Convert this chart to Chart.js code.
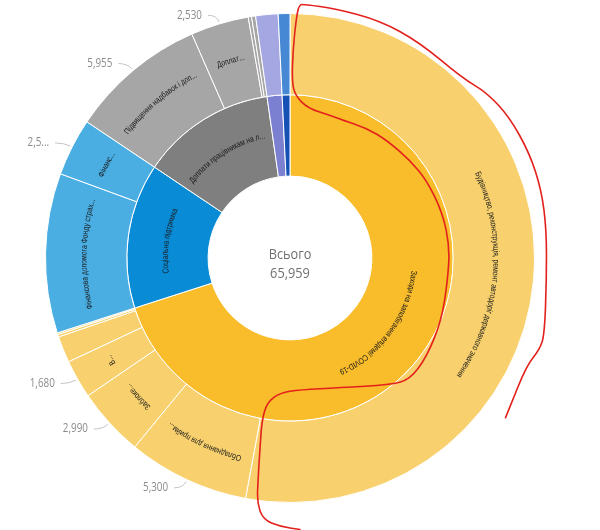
<!DOCTYPE html>
<html lang="uk">
<head>
  <meta charset="UTF-8" />
  <title>Всього</title>
  <script src="https://cdn.jsdelivr.net/npm/chart.js"></script>
  <style>
    html, body {
      margin: 0;
      padding: 0;
      background: #fff;
    }
    canvas {
      display: block;
    }
  </style>
</head>
<body>
  <canvas id="sunburst" width="600" height="530"></canvas>

  <script>
    // outer ring, clockwise from 12 o'clock
    const outerNames = [
      "Будівництво, реконструкція, ремонт автодоріг державного значення",
      "Обладнання для прийм...",
      "Заблоке...",
      "В...",
      "", "", "",
      "Фінансова допомога Фонду страх...",
      "Фінанс...",
      "Підвищення надбавок і доп...",
      "Доплат...",
      "", "",
      "",
      ""
    ];
    const outerValues = [34900, 5300, 2990, 1680, 1150, 110, 70, 6960, 2510, 5955, 2530, 145, 175, 975, 509];
    const outerGroup  = [0, 0, 0, 0, 0, 0, 0, 1, 1, 2, 2, 2, 2, 3, 4];
    // 1 = value shown, 2 = value shown cut short, 0 = none
    const valueTags   = [0, 1, 1, 1, 0, 0, 0, 0, 2, 1, 1, 0, 0, 0, 0];

    // inner ring
    const innerNames = [
      "Заходи на запобігання епідемії COVID-19",
      "Соціальна підтримка",
      "Доплати працівникам на л...",
      "",
      ""
    ];
    const innerColors = ["#F9BC2A", "#0A8BD6", "#7F7F7F", "#7B80D1", "#1652B5"];
    const outerColors = ["#F8D16E", "#4AAEE3", "#A6A6A6", "#A4A7E1", "#4688D3"];

    const centerTitle = "Всього";

    // hand drawn red loop on the screenshot, offsets from the centre (outer radius = 245)
    const scribble = [
      [216,160],[220,150],[237,108],[250,92],[255,77],[257,22],[257,-28],[252,-68],[240,-105],
      [220,-141],[197,-166],[173,-180],[130,-216],[90,-238],[45,-250],[15,-254],[9,-254],
      [6,-238],[3,-208],[2,-178],[5,-163],[18,-150],[40,-143],[53,-138],[77,-130],[97,-118],
      [120,-98],[137,-78],[153,-45],[160,-11],[158,22],[152,62],[137,99],[120,122],[100,127],
      [50,130],[10,132],[-10,135],[-23,145],[-28,162],[-30,189],[-32,222],[-33,245],
      [-27,262],[-10,269],[10,272]
    ];

    const innerValues = innerNames.map((_, g) =>
      outerValues.reduce((s, v, i) => (outerGroup[i] === g ? s + v : s), 0)
    );
    const total = innerValues.reduce((a, b) => a + b, 0);

    function fmt(n) {
      return n.toLocaleString("en-US");
    }

    function curvedText(ctx, text, cx, cy, r, mid, squeeze) {
      const chars = [...text];
      const widths = chars.map(c => ctx.measureText(c).width * squeeze);
      const len = widths.reduce((a, b) => a + b, 0);
      let a = mid - len / 2 / r;
      chars.forEach((c, k) => {
        const ang = a + widths[k] / 2 / r;
        ctx.save();
        ctx.translate(cx + r * Math.cos(ang), cy + r * Math.sin(ang));
        ctx.rotate(ang + Math.PI / 2);
        ctx.scale(squeeze, 1);
        ctx.fillText(c, 0, 0);
        ctx.restore();
        a += widths[k] / r;
      });
    }

    function squeezed(ctx, txt, x, y, sx) {
      ctx.save();
      ctx.translate(x, y);
      ctx.scale(sx, 1);
      ctx.fillText(txt, 0, 0);
      ctx.restore();
    }

    const sunburstLabels = {
      id: "sunburstLabels",
      afterDraw(chart) {
        const ctx = chart.ctx;
        const outerMeta = chart.getDatasetMeta(0);
        const innerMeta = chart.getDatasetMeta(1);

        ctx.save();
        ctx.fillStyle = "#1a1a1a";
        ctx.font = "8.5px 'Liberation Sans', Arial, sans-serif";
        ctx.textAlign = "center";
        ctx.textBaseline = "middle";

        [[outerMeta, outerNames], [innerMeta, innerNames]].forEach(([meta, names]) => {
          meta.data.forEach((arc, i) => {
            if (!names[i]) return;
            const mid = (arc.startAngle + arc.endAngle) / 2;
            const r = (arc.innerRadius + arc.outerRadius) / 2 + 2;
            curvedText(ctx, names[i], arc.x, arc.y, r, mid, 0.8);
          });
        });

        // value labels outside the outer ring
        ctx.font = "12px 'Open Sans', 'Noto Sans', sans-serif";
        ctx.textAlign = "right";
        ctx.strokeStyle = "#c4c4c4";
        ctx.lineWidth = 1;
        outerMeta.data.forEach((arc, i) => {
          if (!valueTags[i]) return;
          const mid = (arc.startAngle + arc.endAngle) / 2;
          const R = arc.outerRadius;
          const px = arc.x + (R + 2) * Math.cos(mid), py = arc.y + (R + 2) * Math.sin(mid);
          const qx = arc.x + (R + 9) * Math.cos(mid), qy = arc.y + (R + 9) * Math.sin(mid);
          const ex = qx - 9, ey = qy;
          ctx.beginPath();
          ctx.moveTo(px, py);
          ctx.quadraticCurveTo(qx, qy, ex, ey);
          ctx.stroke();
          let txt = fmt(outerValues[i]);
          if (valueTags[i] === 2) txt = txt.slice(0, 3) + "...";
          ctx.fillStyle = "#8c8c8c";
          squeezed(ctx, txt, ex - 6, ey, 0.82);
        });

        // centre
        const c = outerMeta.data[0];
        ctx.textAlign = "center";
        ctx.textBaseline = "alphabetic";
        ctx.fillStyle = "#707070";
        ctx.font = "15px 'Open Sans', 'Noto Sans', sans-serif";
        squeezed(ctx, centerTitle, c.x, c.y + 1, 0.85);
        squeezed(ctx, fmt(total), c.x, c.y + 20, 0.85);

        // red marker loop
        const k = c.outerRadius / 245;
        ctx.strokeStyle = "#E3211C";
        ctx.lineWidth = 1.6;
        ctx.lineJoin = "round";
        ctx.lineCap = "round";
        ctx.beginPath();
        const pts = scribble.map(([dx, dy]) => [c.x + dx * k, c.y + dy * k]);
        ctx.moveTo(pts[0][0], pts[0][1]);
        for (let j = 1; j < pts.length - 1; j++) {
          const mx = (pts[j][0] + pts[j + 1][0]) / 2;
          const my = (pts[j][1] + pts[j + 1][1]) / 2;
          ctx.quadraticCurveTo(pts[j][0], pts[j][1], mx, my);
        }
        const last = pts[pts.length - 1];
        ctx.lineTo(last[0], last[1]);
        ctx.stroke();
        ctx.restore();
      }
    };

    new Chart(document.getElementById("sunburst"), {
      type: "doughnut",
      data: {
        labels: outerNames,
        datasets: [
          {
            label: "outer",
            data: outerValues,
            backgroundColor: outerGroup.map(g => outerColors[g]),
            borderColor: "#ffffff",
            borderWidth: 1
          },
          {
            label: "inner",
            data: innerValues,
            backgroundColor: innerColors,
            borderColor: "#ffffff",
            borderWidth: 1
          }
        ]
      },
      options: {
        responsive: false,
        animation: false,
        cutout: "33.5%",
        layout: {
          padding: { left: 0, right: 20, top: 13, bottom: 27 }
        },
        plugins: {
          legend: { display: false },
          tooltip: { enabled: false }
        }
      },
      plugins: [sunburstLabels]
    });
  </script>
</body>
</html>
